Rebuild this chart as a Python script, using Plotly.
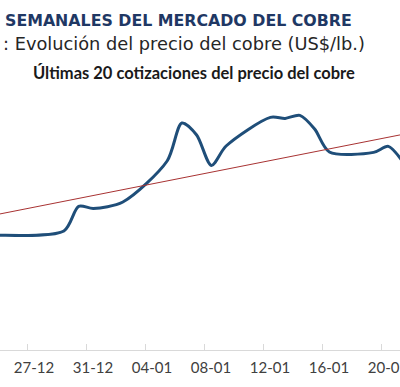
import pandas as pd
import plotly.graph_objects as go

# --- data ---
dates = ["2025-12-23", "2025-12-24", "2025-12-29", "2025-12-30", "2025-12-31",
         "2026-01-02", "2026-01-05", "2026-01-06", "2026-01-07", "2026-01-08",
         "2026-01-09", "2026-01-12", "2026-01-13", "2026-01-14", "2026-01-15",
         "2026-01-16", "2026-01-19", "2026-01-20", "2026-01-21", "2026-01-22"]
prices = [5.371, 5.374, 5.395, 5.518, 5.508,
          5.540, 5.745, 5.935, 5.875, 5.723,
          5.820, 5.963, 5.958, 5.973, 5.905,
          5.790, 5.788, 5.818, 5.740, 5.625]

trend_dates = ["2025-12-23", "2026-01-22"]
trend_values = [5.456, 5.893]

tick_dates = ["2025-12-23", "2025-12-27", "2025-12-31", "2026-01-04", "2026-01-08",
              "2026-01-12", "2026-01-16", "2026-01-20", "2026-01-24"]
tick_labels = ["23-12", "27-12", "31-12", "04-01", "08-01",
               "12-01", "16-01", "20-01", "24-01"]

title_line1 = "SEMANALES DEL MERCADO DEL COBRE"
title_line2 = ": Evolución del precio del cobre (US$/lb.)"
chart_title = "Últimas 20 cotizaciones del precio del cobre"

# tick marks sit on day boundaries, labels centred on the day (Excel "between tick marks")
tick_pos = [pd.Timestamp(d) - pd.Timedelta(hours=12) for d in tick_dates]
x_range = [pd.Timestamp("2025-12-24 16:04"), pd.Timestamp("2026-01-20 18:55")]

fig = go.Figure()
fig.add_trace(go.Scatter(
    x=pd.to_datetime(dates), y=prices, mode="lines",
    line=dict(color="#1F4E79", width=3, shape="spline", smoothing=0.8),
    showlegend=False, hoverinfo="skip"))
fig.add_trace(go.Scatter(
    x=pd.to_datetime(trend_dates), y=trend_values, mode="lines",
    line=dict(color="#A83232", width=1),
    showlegend=False, hoverinfo="skip"))

fig.update_layout(
    width=400, height=387,
    margin=dict(l=0, r=0, t=90, b=37, autoexpand=False),
    paper_bgcolor="white", plot_bgcolor="white",
    xaxis=dict(type="date", range=x_range, automargin=False,
               tickvals=tick_pos, ticktext=tick_labels,
               ticklabelshift=7, ticklabelstandoff=4, ticklabeloverflow="allow",
               ticks="inside", ticklen=6, tickcolor="#D9D9D9", tickwidth=1,
               showline=True, linecolor="#D9D9D9", linewidth=1,
               showgrid=False, zeroline=False,
               tickfont=dict(family="Lato, Carlito, sans-serif", size=15, color="#404040")),
    yaxis=dict(range=[4.8, 6.1], showgrid=False, zeroline=False, automargin=False,
               showticklabels=False, showline=False, ticks=""),
    annotations=[
        dict(text="<b>" + title_line1 + "</b>", xref="paper", yref="paper",
             x=0, y=1, xanchor="left", yanchor="middle", showarrow=False,
             xshift=3, yshift=90 - 20,
             font=dict(family="DejaVu Sans", size=15.8, color="#1F3864")),
        dict(text=title_line2, xref="paper", yref="paper",
             x=0, y=1, xanchor="left", yanchor="middle", showarrow=False,
             xshift=1, yshift=90 - 43,
             font=dict(family="DejaVu Sans", size=17.8, color="#262626")),
        dict(text="<b>" + chart_title + "</b>", xref="paper", yref="paper",
             x=0, y=1, xanchor="center", yanchor="middle", showarrow=False,
             xshift=194, yshift=90 - 73,
             font=dict(family="Lato", size=16.5, color="#1A1A1A")),
    ],
)

fig.write_html("out.html", config={"displayModeBar": False},
               post_script="document.body.style.margin='0';document.body.style.overflow='hidden';")
